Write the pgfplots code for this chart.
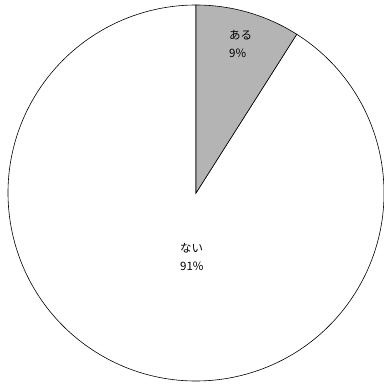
\documentclass[border=0pt]{standalone}
\usepackage{pgfplots}
\usepackage{pgfplotstable}
\pgfplotsset{compat=1.18}
\usepackage{fontspec}
\setmainfont{Noto Sans CJK JP}

\pgfplotstableread{
label value
ある 9
ない 91
}\piedata

\definecolor{slicegray}{RGB}{180,180,180}

\begin{document}
\begin{tikzpicture}
\pgfplotstablegetelem{0}{value}\of\piedata \let\va\pgfplotsretval
\pgfplotstablegetelem{1}{value}\of\piedata \let\vb\pgfplotsretval
\pgfplotstablegetelem{0}{label}\of\piedata \let\la\pgfplotsretval
\pgfplotstablegetelem{1}{label}\of\piedata \let\lb\pgfplotsretval
\pgfmathsetmacro{\ea}{90-3.6*\va}
\begin{axis}[
  scale only axis, width=383pt, height=384pt,
  xmin=-1.0426, xmax=0.9947, ymin=-1.016, ymax=1.0266,
  hide axis, clip=false,
]
% slice "ない" (white), clockwise from the end of the first slice
\draw[black, line width=0.6pt, fill=white]
  (axis cs:0,0) -- (axis cs:{cos(\ea)},{sin(\ea)})
  arc[start angle=\ea, end angle={\ea-3.6*\vb}, radius=1] -- cycle;
% slice "ある" (gray), clockwise from 12 o'clock
\draw[black, line width=0.6pt, fill=slicegray]
  (axis cs:0,0) -- (axis cs:0,1)
  arc[start angle=90, end angle=\ea, radius=1] -- cycle;
\node[anchor=north west, align=left, font=\fontsize{11.5}{18}\selectfont, inner sep=0pt]
  at (axis cs:0.1755,0.865) {\la\\\va\%};
\node[anchor=north west, align=left, font=\fontsize{11.5}{18}\selectfont, inner sep=0pt]
  at (axis cs:-0.085,-0.268) {\lb\\\vb\%};
\end{axis}
% the page is the plot area; arc control points must not widen it
\pgfresetboundingbox
\useasboundingbox (current axis.south west) rectangle (current axis.north east);
\end{tikzpicture}
\end{document}
